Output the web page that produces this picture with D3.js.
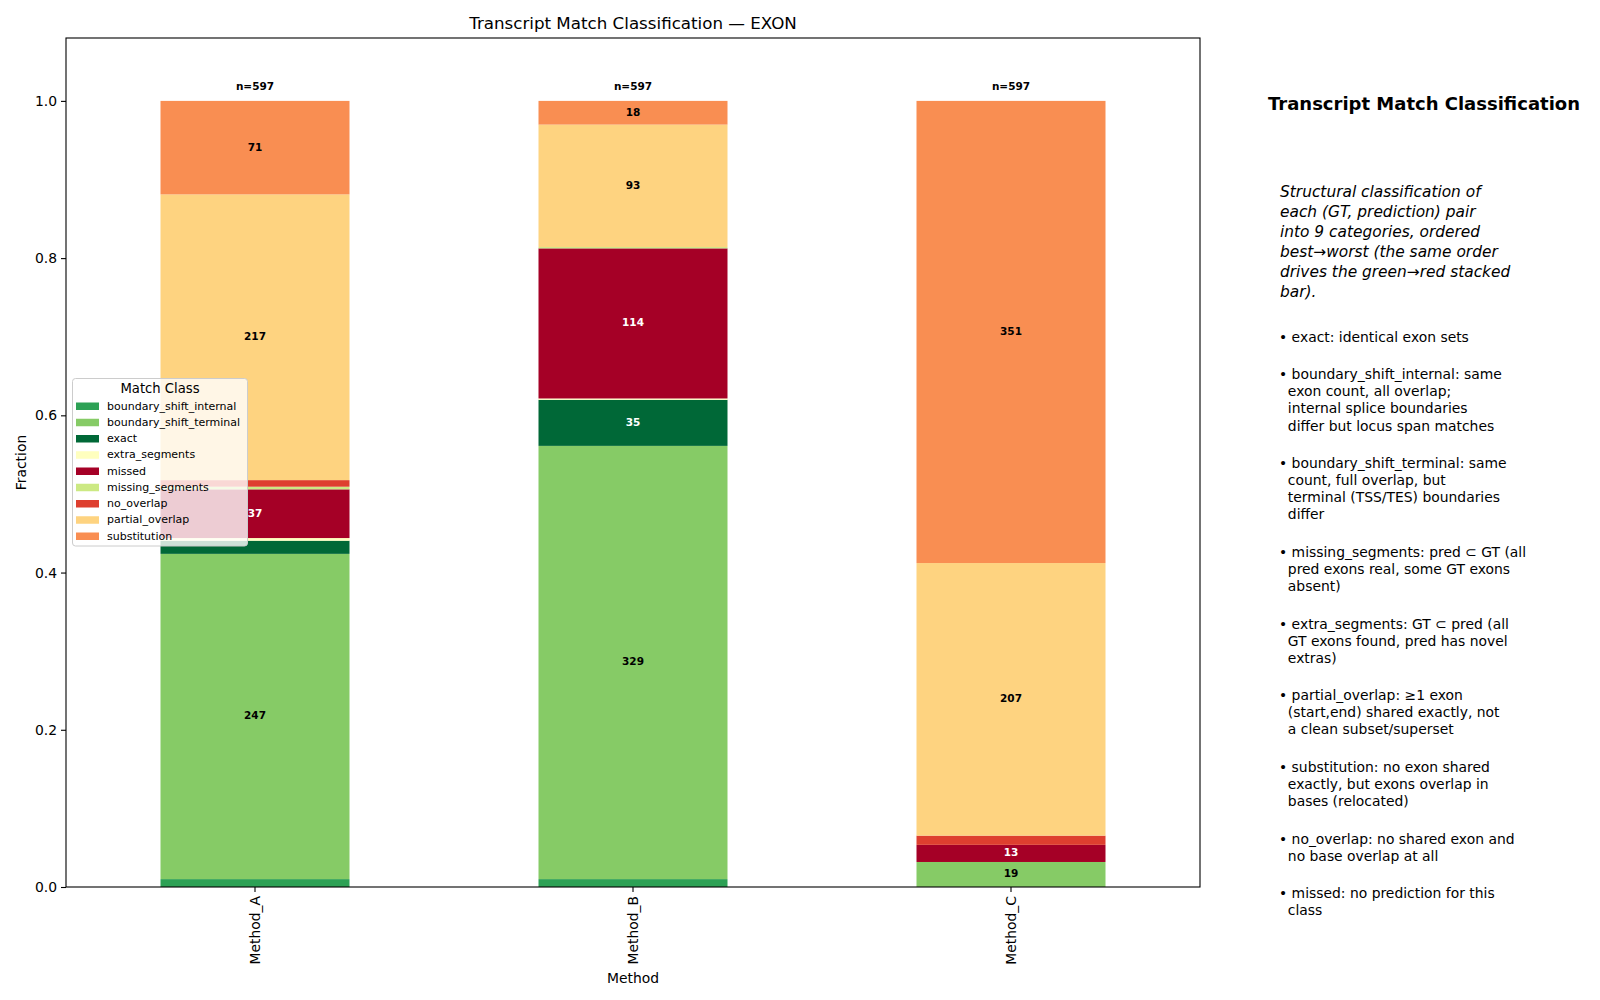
<!DOCTYPE html>
<html><head><meta charset="utf-8">
<script src="https://cdn.jsdelivr.net/npm/d3@7"></script>
<style>body{margin:0;background:#fff}text{font-family:"DejaVu Sans",sans-serif}</style>
</head><body><svg id="c" width="1600" height="1000"></svg>
<script>
const methods = ["Method_A","Method_B","Method_C"];
const classes = ["boundary_shift_internal","boundary_shift_terminal","exact","extra_segments","missed","missing_segments","no_overlap","partial_overlap","substitution"];
const boundary_shift_internal = [6,6,0];
const boundary_shift_terminal = [247,329,19];
const exact = [10,35,0];
const extra_segments = [2,1,0];
const missed = [37,114,13];
const missing_segments = [2,1,0];
const no_overlap = [5,0,7];
const partial_overlap = [217,93,207];
const substitution = [71,18,351];
const yTicks = [0,0.2,0.4,0.6,0.8,1.0];
const colors = {boundary_shift_internal:"#2da155",boundary_shift_terminal:"#86cb66",exact:"#006837",extra_segments:"#ffffbf",missed:"#a50026",missing_segments:"#cce983",no_overlap:"#de3f2f",partial_overlap:"#fed380",substitution:"#f98e52"};
const darkText = new Set(["exact","missed"]);
const series = {boundary_shift_internal,boundary_shift_terminal,exact,extra_segments,missed,missing_segments,no_overlap,partial_overlap,substitution};
const panelTitle = "Transcript Match Classification";
const panelIntro = ["Structural classification of","each (GT, prediction) pair","into 9 categories, ordered","best\u2192worst (the same order","drives the green\u2192red stacked","bar)."];
const bullets = [
 ["\u2022 exact: identical exon sets"],
 ["\u2022 boundary_shift_internal: same","  exon count, all overlap;","  internal splice boundaries","  differ but locus span matches"],
 ["\u2022 boundary_shift_terminal: same","  count, full overlap, but","  terminal (TSS/TES) boundaries","  differ"],
 ["\u2022 missing_segments: pred \u2282 GT (all","  pred exons real, some GT exons","  absent)"],
 ["\u2022 extra_segments: GT \u2282 pred (all","  GT exons found, pred has novel","  extras)"],
 ["\u2022 partial_overlap: \u22651 exon","  (start,end) shared exactly, not","  a clean subset/superset"],
 ["\u2022 substitution: no exon shared","  exactly, but exons overlap in","  bases (relocated)"],
 ["\u2022 no_overlap: no shared exon and","  no base overlap at all"],
 ["\u2022 missed: no prediction for this","  class"]
];

const svg = d3.select("#c");
const L=66,R=1200,T=38,B=887;
const totals = methods.map((m,i)=>classes.reduce((s,c)=>s+series[c][i],0));
const rows = methods.map((m,i)=>{const o={method:m};classes.forEach(c=>o[c]=series[c][i]/totals[i]);return o;});
const stack = d3.stack().keys(classes)(rows);
const x = d3.scaleBand().domain(methods).range([L,R]).paddingInner(0.5).paddingOuter(0.25);
const y = d3.scaleLinear().domain([0,1.08]).range([B,T]);

const g = svg.append("g");
stack.forEach(layer=>{
  const key = layer.key;
  g.selectAll(null).data(layer).join("rect")
   .attr("x",(d,i)=>x(methods[i])).attr("width",x.bandwidth())
   .attr("y",d=>y(d[1])).attr("height",d=>y(d[0])-y(d[1]))
   .attr("fill",colors[key]);
  g.selectAll(null).data(layer.map((d,i)=>({d,i})).filter(o=>o.d[1]-o.d[0]>0.02)).join("text")
   .attr("x",o=>x(methods[o.i])+x.bandwidth()/2).attr("y",o=>y((o.d[0]+o.d[1])/2)-1)
   .attr("text-anchor","middle").attr("dominant-baseline","central")
   .attr("font-size",10.5).attr("font-weight","bold")
   .attr("fill",darkText.has(key)?"#fff":"#000")
   .text(o=>series[key][o.i]);
});
// n labels
g.selectAll(null).data(methods).join("text")
 .attr("x",m=>x(m)+x.bandwidth()/2).attr("y",y(1.0)-11)
 .attr("text-anchor","middle").attr("font-size",10.5).attr("font-weight","bold")
 .text((m,i)=>"n="+totals[i]);

// frame
svg.append("rect").attr("x",L).attr("y",T).attr("width",R-L).attr("height",B-T).attr("fill","none").attr("stroke","#000").attr("stroke-width",1.1);
// y axis
const ya = svg.append("g").attr("transform",`translate(${L},0)`).call(d3.axisLeft(y).tickValues(yTicks).tickFormat(d3.format(".1f")).tickSize(5).tickPadding(4));
ya.select(".domain").remove();
ya.selectAll("text").attr("font-size",13.9).attr("font-family","DejaVu Sans");
ya.selectAll("line").attr("stroke-width",1.1);
// x axis
const xa = svg.append("g").attr("transform",`translate(0,${B})`).call(d3.axisBottom(x).tickSize(5).tickPadding(4));
xa.select(".domain").remove();
xa.selectAll("line").attr("stroke-width",1.1);
xa.selectAll("text").attr("font-size",13.9).attr("font-family","DejaVu Sans")
  .attr("transform","rotate(-90)").attr("text-anchor","end").attr("dy","0.35em").attr("x",-9).attr("y",0);

svg.append("text").attr("x",(L+R)/2).attr("y",29).attr("text-anchor","middle").attr("font-size",16.7).text("Transcript Match Classification \u2014 EXON");
svg.append("text").attr("x",(L+R)/2).attr("y",983).attr("text-anchor","middle").attr("font-size",13.9).text("Method");
svg.append("text").attr("transform",`translate(26,${(T+B)/2}) rotate(-90)`).attr("text-anchor","middle").attr("font-size",13.9).text("Fraction");

// legend
const lg = svg.append("g");
lg.append("rect").attr("x",72.5).attr("y",378.5).attr("width",175).attr("height",167.5).attr("rx",3)
  .attr("fill","#fff").attr("fill-opacity",0.8).attr("stroke","#cccccc").attr("stroke-width",1);
lg.append("text").attr("x",160).attr("y",393).attr("text-anchor","middle").attr("font-size",13.2).text("Match Class");
classes.forEach((c,i)=>{
  const cy = 406 + i*16.25;
  lg.append("rect").attr("x",76).attr("y",cy-3.5).attr("width",23).attr("height",7.5).attr("fill",colors[c]);
  lg.append("text").attr("x",107).attr("y",cy).attr("dominant-baseline","central").attr("font-size",11).text(c);
});

// right panel
svg.append("text").attr("x",1268).attr("y",110).attr("font-size",18).attr("font-weight","bold").text(panelTitle);
panelIntro.forEach((s,i)=>svg.append("text").attr("x",1280).attr("y",197+i*20).attr("font-size",15.4).attr("font-style","italic").text(s));
let yy = 341.7;
bullets.forEach(lines=>{
  lines.forEach((s,j)=>{
    svg.append("text").attr("x",1279).attr("y",yy+j*17.1).attr("font-size",13.9).style("white-space","pre").text(s);
  });
  yy += (lines.length-1)*17.1 + 37.5;
});
</script></body></html>
